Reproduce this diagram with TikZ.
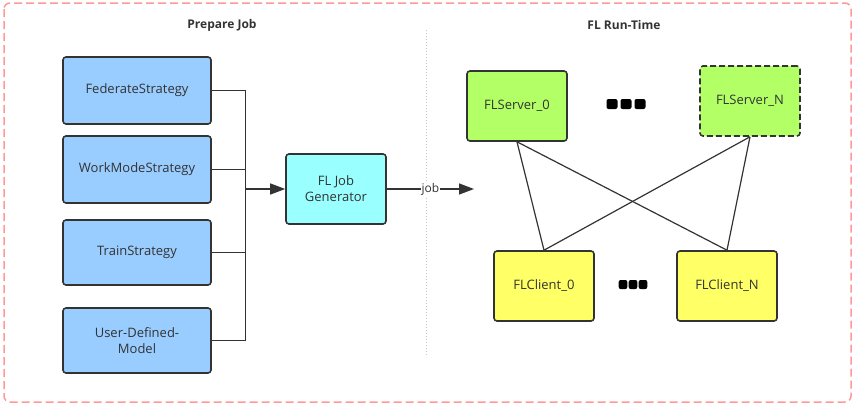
\documentclass[tikz,border=0pt]{standalone}
\usepackage{fontspec}
\setmainfont{Open Sans}
\usetikzlibrary{arrows.meta}
\definecolor{ink}{HTML}{333333}
\definecolor{blueF}{HTML}{99CCFF}
\definecolor{cyanF}{HTML}{99FFFF}
\definecolor{greenF}{HTML}{B3FF66}
\definecolor{yellowF}{HTML}{FFFF66}
\definecolor{frameC}{HTML}{FF9999}
\definecolor{divC}{HTML}{C8C8C8}
\tikzset{
  box/.style={draw=ink, line width=1.6pt, rounded corners=3pt, inner sep=2pt,
    align=center, text=ink, font=\fontsize{13}{16}\selectfont},
  strat/.style={box, fill=blueF, minimum width=148pt, minimum height=66pt},
  gen/.style={box, fill=cyanF, minimum width=100pt, minimum height=70pt},
  srv/.style={box, fill=greenF, minimum width=100pt, minimum height=70pt},
  cli/.style={box, fill=yellowF, minimum width=100pt, minimum height=70pt},
  wire/.style={draw=ink, line width=1.4pt},
  arr/.style={wire, -{Triangle[length=15pt,width=11pt]}},
  title/.style={text=ink, font=\bfseries\fontsize{12}{14}\selectfont},
}
\begin{document}
\begin{tikzpicture}[x=1pt,y=-1pt]
\useasboundingbox (0,0) rectangle (855,407);
% outer frame
\draw[frameC, line width=1.5pt, dash pattern=on 8pt off 4pt, rounded corners=6pt] (4,3) rectangle (851,402);
% divider
\draw[divC, line width=1pt, dotted] (426,30) -- (426,357);
% titles
\node[title] (t1) at (222,25) {Prepare Job};
\node[title] (t2) at (624,25) {FL Run-Time};
% left boxes
\node[strat, minimum height=67pt] (fed) at (137,90.5) {FederateStrategy};
\node[strat, minimum height=67pt] (wms) at (137,169.5) {WorkModeStrategy};
\node[strat, minimum height=65pt] (trs) at (137,252.5) {TrainStrategy};
\node[strat, minimum height=65pt] (udm) at (137,340.5) {User-Defined-\\Model};
\node[gen] (gen) at (336,189) {FL Job\\Generator};
\coordinate (bus) at (245.5,189);
\draw[wire] (fed.east) -| (bus);
\draw[wire] (wms.east) -| (bus);
\draw[wire] (trs.east) -| (bus);
\draw[wire] (udm.east) -| (bus);
\draw[arr] (bus) -- (gen.west);
\coordinate (jobend) at (474,189);
\draw[arr] (gen.east) -- node[fill=white, text=ink, inner sep=1pt, font=\fontsize{12}{14}\selectfont] (joblbl) {job} (jobend);
% servers and clients
\node[srv] (s0) at (517,106) {FLServer\_0};
\node[srv, dashed, dash pattern=on 6pt off 3pt] (sn) at (750,101) {FLServer\_N};
\node[cli] (c0) at (544,286) {FLClient\_0};
\node[cli] (cn) at (727,286) {FLClient\_N};
\draw[wire, line width=1.2pt] (s0.south) -- (c0.north);
\draw[wire, line width=1.2pt] (s0.south) -- (cn.north);
\draw[wire, line width=1.2pt] (sn.south) -- (c0.north);
\draw[wire, line width=1.2pt] (sn.south) -- (cn.north);
% ellipsis dots
\foreach \cx in {612,626,640}{
  \fill[black, rounded corners=2pt] (\cx-5.5,99) rectangle (\cx+5.5,109);
}
\foreach \cx in {623,633,643}{
  \fill[black, rounded corners=2pt] (\cx-4.3,280) rectangle (\cx+4.3,289);
}
\end{tikzpicture}
\end{document}
